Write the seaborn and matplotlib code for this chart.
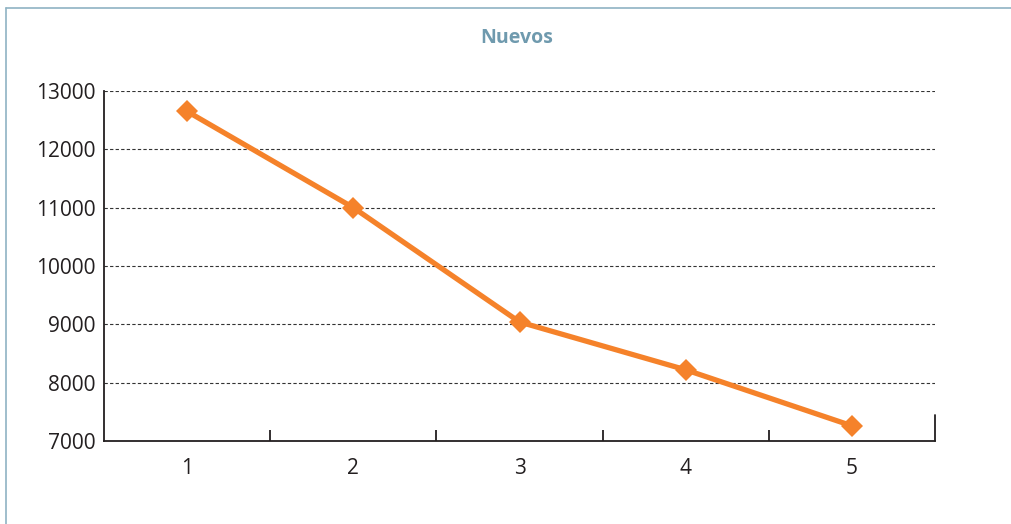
import matplotlib
matplotlib.use("Agg")
import matplotlib.pyplot as plt
import seaborn as sns
import numpy as np
import pandas as pd
from matplotlib.lines import Line2D

categories = ["1", "2", "3", "4", "5"]
values = [12650, 11000, 9040, 8220, 7260]
y_ticks = [7000, 8000, 9000, 10000, 11000, 12000, 13000]
title = "Nuevos"

sns.set_theme(style="white")
plt.rcParams['font.family'] = ['Open Sans', 'DejaVu Sans']

fig = plt.figure(figsize=(10.11, 5.24), dpi=100)
ax = fig.add_axes([0.1029, 0.1584, 0.822, 0.668])

df = pd.DataFrame({"pos": np.arange(len(categories)), "val": values})
sns.lineplot(data=df, x="pos", y="val", ax=ax, color="#f5822a", linewidth=3.8,
             marker="D", markersize=11, markeredgewidth=0, markeredgecolor="#f5822a")

ax.set_xlim(-0.5, len(categories) - 0.5)
ax.set_ylim(y_ticks[0], y_ticks[-1])
ax.set_xticks(np.arange(len(categories)))
ax.set_xticklabels(categories)
ax.set_xticks(np.arange(len(categories) - 1) + 0.5, minor=True)
ax.set_yticks(y_ticks)
ax.set_yticklabels([str(v) for v in y_ticks])
ax.set_xlabel("")
ax.set_ylabel("")

for v in y_ticks[1:]:
    ax.axhline(v, color="#333333", linestyle=(0, (3, 2)), linewidth=0.8, zorder=0)

for s in ["top", "right"]:
    ax.spines[s].set_visible(False)
for s in ["left", "bottom"]:
    ax.spines[s].set_color("#231f20")
    ax.spines[s].set_linewidth(1.3)

ax.axvline(len(categories) - 0.5, ymin=0, ymax=26 / 350, color="#231f20", linewidth=1.3, clip_on=False)

ax.tick_params(axis="x", which="major", length=0, labelsize=15, labelcolor="#231f20", pad=12)
ax.tick_params(axis="x", which="minor", direction="in", length=8, width=1.3, color="#231f20", bottom=True)
ax.tick_params(axis="y", which="major", length=0, labelsize=15, labelcolor="#231f20", pad=6)

fig.text(0.511, 0.927, title, ha="center", va="center", fontsize=14, fontweight="bold", color="#6f9aae")

frame_c = "#8fb3c3"
fig.add_artist(Line2D([0.0059, 1.0], [0.9847, 0.9847], color=frame_c, linewidth=1.2, transform=fig.transFigure))
fig.add_artist(Line2D([0.0059, 0.0059], [0.0, 0.9847], color=frame_c, linewidth=1.2, transform=fig.transFigure))

fig.savefig("out.png", dpi=100, facecolor="white")
